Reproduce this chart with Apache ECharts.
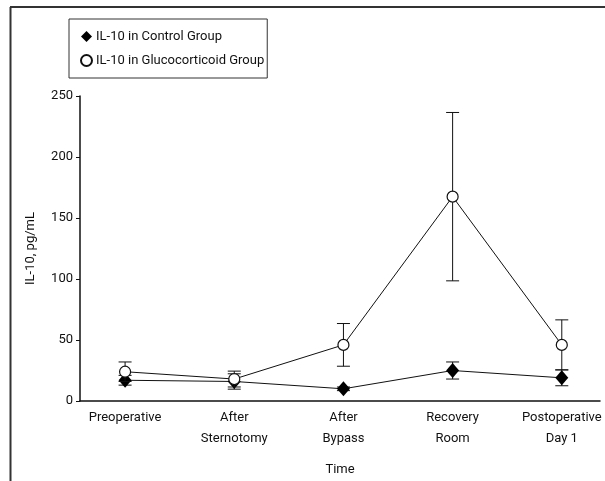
<!DOCTYPE html>
<html>
<head>
<meta charset="utf-8">
<script src="https://cdn.jsdelivr.net/npm/echarts@6/dist/echarts.min.js"></script>
<style>
  html, body { margin: 0; padding: 0; background: #fff; }
  #chart { width: 605px; height: 481px; }
</style>
</head>
<body>
<div id="chart"></div>
<script>
// Sampling time points
const categories = ['Preoperative', 'After\nSternotomy', 'After\nBypass', 'Recovery\nRoom', 'Postoperative\nDay 1'];

// IL-10 (pg/mL), mean and error-bar half-width per time point
const controlMean = [17, 16, 10, 25, 19];
const controlErr = [4, 6.3, 1.5, 7, 6.5];
const glucoMean = [24, 18, 46, 167.5, 46];
const glucoErr = [8, 6.5, 17.5, 69, 20.5];

const yTicks = [0, 50, 100, 150, 200, 250];

const FONT = 'Roboto, "Liberation Sans", Arial, sans-serif';
const INK = '#111';

function points(means) {
  return means.map((v, i) => [i, v]);
}
function ranges(means, errs) {
  return means.map((v, i) => [i, v - errs[i], v + errs[i]]);
}

function errorBars(api) {
  const x = api.value(0);
  const lo = api.coord([x, api.value(1)]);
  const hi = api.coord([x, api.value(2)]);
  const half = 6.5;
  const style = { stroke: INK, lineWidth: 1 };
  return {
    type: 'group',
    children: [
      { type: 'line', shape: { x1: hi[0], y1: hi[1], x2: lo[0], y2: lo[1] }, style },
      { type: 'line', shape: { x1: hi[0] - half, y1: hi[1], x2: hi[0] + half, y2: hi[1] }, style },
      { type: 'line', shape: { x1: lo[0] - half, y1: lo[1], x2: lo[0] + half, y2: lo[1] }, style }
    ]
  };
}

const chart = echarts.init(document.getElementById('chart'), null, { renderer: 'canvas' });

chart.setOption({
  animation: false,
  backgroundColor: '#fff',
  textStyle: { fontFamily: FONT },
  grid: { left: 80, right: 5, top: 96, bottom: 80 },
  graphic: [
    // outer frame (left and top rules)
    { type: 'line', shape: { x1: 10.5, y1: 7, x2: 10.5, y2: 481 }, style: { stroke: '#333', lineWidth: 2 } },
    { type: 'line', shape: { x1: 10, y1: 7, x2: 605, y2: 7 }, style: { stroke: '#333', lineWidth: 2 } }
  ],
  legend: {
    orient: 'vertical',
    left: 69,
    top: 19,
    padding: [11, 3, 11, 11],
    itemGap: 11,
    itemWidth: 11,
    itemHeight: 11,
    borderColor: '#333',
    borderWidth: 1,
    textStyle: { fontFamily: FONT, fontSize: 13, color: INK, padding: [0, 0, 0, -1] },
    data: [
      { name: 'IL-10 in Control Group', icon: 'diamond' },
      { name: 'IL-10 in Glucocorticoid Group', icon: 'circle' }
    ]
  },
  xAxis: {
    type: 'value',
    min: -0.413,
    max: 4.35,
    name: 'Time',
    nameLocation: 'middle',
    nameGap: 62,
    nameTextStyle: { fontFamily: FONT, fontSize: 13, color: INK },
    axisLine: { onZero: false, lineStyle: { color: INK, width: 1.5 } },
    axisTick: { show: false },
    splitLine: { show: false },
    axisLabel: {
      customValues: [0, 1, 2, 3, 4],
      formatter: (v) => categories[Math.round(v)],
      fontFamily: FONT,
      fontSize: 13,
      color: INK,
      lineHeight: 21,
      margin: 6
    }
  },
  yAxis: {
    type: 'value',
    min: 0,
    max: 250,
    interval: 50,
    name: 'IL-10, pg/mL',
    nameLocation: 'middle',
    nameGap: 43,
    nameTextStyle: { fontFamily: FONT, fontSize: 13, color: INK },
    axisLine: { show: true, onZero: false, lineStyle: { color: INK, width: 1.5 } },
    axisTick: { show: true, length: 4, lineStyle: { color: INK, width: 1 } },
    splitLine: { show: false },
    axisLabel: {
      customValues: yTicks,
      fontFamily: FONT,
      fontSize: 13,
      color: INK,
      margin: 7
    }
  },
  series: [
    {
      name: 'control-err',
      type: 'custom',
      renderItem: (params, api) => errorBars(api),
      data: ranges(controlMean, controlErr),
      z: 2
    },
    {
      name: 'IL-10 in Control Group',
      type: 'line',
      data: points(controlMean),
      symbol: 'diamond',
      symbolSize: [13, 15],
      lineStyle: { color: INK, width: 1 },
      itemStyle: { color: '#000', borderColor: '#000', borderWidth: 0 },
      z: 3
    },
    {
      name: 'gluco-err',
      type: 'custom',
      renderItem: (params, api) => errorBars(api),
      data: ranges(glucoMean, glucoErr),
      z: 4
    },
    {
      name: 'IL-10 in Glucocorticoid Group',
      type: 'line',
      data: points(glucoMean),
      symbol: 'circle',
      symbolSize: 11,
      showAllSymbol: true,
      lineStyle: { color: INK, width: 1 },
      itemStyle: { color: '#fff', borderColor: INK, borderWidth: 1.2 },
      z: 5
    }
  ]
});
</script>
</body>
</html>
